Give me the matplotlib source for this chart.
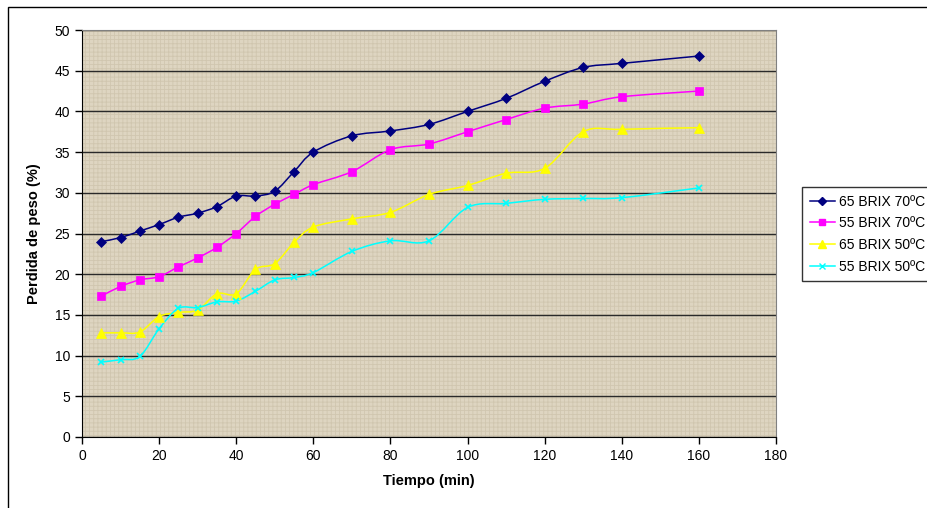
import numpy as np
import matplotlib
matplotlib.use("Agg")
import matplotlib.pyplot as plt
from matplotlib.path import Path
from matplotlib.patches import PathPatch, Rectangle

plt.rcParams['font.family'] = ['Liberation Sans', 'DejaVu Sans']
plt.rcParams['hatch.linewidth'] = 0.6

# tiempo (min)
tiempo = [5, 10, 15, 20, 25, 30, 35, 40, 45, 50, 55, 60, 70, 80, 90, 100, 110, 120, 130, 140, 160]

b65_70 = [24.0, 24.5, 25.3, 26.1, 27.0, 27.5, 28.3, 29.6, 29.6, 30.2, 32.6, 35.0,
          37.0, 37.6, 38.4, 40.0, 41.6, 43.7, 45.4, 45.9, 46.8]
b55_70 = [17.3, 18.5, 19.3, 19.7, 20.9, 22.0, 23.3, 25.0, 27.1, 28.6, 29.8, 31.0,
          32.6, 35.3, 36.0, 37.5, 39.0, 40.4, 40.9, 41.8, 42.5]
b65_50 = [12.8, 12.8, 12.9, 14.8, 15.3, 15.6, 17.6, 17.6, 20.6, 21.3, 23.9, 25.8,
          26.8, 27.6, 29.8, 30.9, 32.4, 33.0, 37.5, 37.8, 38.0]
b55_50 = [9.2, 9.5, 9.9, 13.3, 15.8, 15.9, 16.6, 16.7, 17.9, 19.3, 19.6, 20.2,
          22.8, 24.1, 24.1, 28.2, 28.7, 29.2, 29.3, 29.4, 30.6]

series = [
    ("65 BRIX 70ºC", b65_70, "#000080", "D", 5),
    ("55 BRIX 70ºC", b55_70, "#FF00FF", "s", 5.5),
    ("65 BRIX 50ºC", b65_50, "#FFFF00", "^", 6.5),
    ("55 BRIX 50ºC", b55_50, "#00FFFF", "x", 5),
]


def smooth_path(x, y):
    # excel-style smoothed line: bezier segments through the points
    p = np.column_stack([x, y]).astype(float)
    n = len(p)
    verts = [p[0]]
    codes = [Path.MOVETO]
    for i in range(n - 1):
        p0 = p[i - 1] if i > 0 else p[i]
        p3 = p[i + 2] if i + 2 < n else p[i + 1]
        c1 = p[i] + (p[i + 1] - p0) / 6
        c2 = p[i + 1] - (p3 - p[i]) / 6
        verts += [c1, c2, p[i + 1]]
        codes += [Path.CURVE4] * 3
    return Path(verts, codes)


fig = plt.figure(figsize=(9.28, 5.08), dpi=100)
ax = fig.add_axes([82/928, 1 - 437/508, (776 - 82)/928, (437 - 30)/508])
ax.set_facecolor("#DED5C1")
# woven paper look
ax.add_patch(Rectangle((0, 0), 1, 1, transform=ax.transAxes, fill=False,
                       hatch="++++", edgecolor="#D0C6AF", lw=0, zorder=0.5))

for lab, vals, col, mk, ms in series:
    ax.add_patch(PathPatch(smooth_path(tiempo, vals), fill=False, edgecolor=col, lw=1.1, zorder=3))
    ax.plot(tiempo, vals, linestyle="none", marker=mk, color=col, ms=ms,
            mew=1.2 if mk == "x" else 0.5, zorder=4)

handles = [plt.Line2D([], [], color=col, marker=mk, ms=ms * 0.8, lw=1.1, label=lab)
           for lab, vals, col, mk, ms in series]

ax.set_xlim(0, 180)
ax.set_ylim(0, 50)
ax.set_xticks(np.arange(0, 181, 20))
ax.set_yticks(np.arange(0, 51, 5))
ax.yaxis.grid(True, color="#2A2A2A", lw=1)
ax.set_axisbelow(True)
ax.tick_params(direction="out", length=5, width=1, labelsize=10, colors="black")
for s in ["top", "right"]:
    ax.spines[s].set_color("#808080")
for s in ["left", "bottom"]:
    ax.spines[s].set_color("black")

ax.set_xlabel("Tiempo (min)", fontsize=10.5, fontweight="bold", labelpad=8)
ax.set_ylabel("Perdida de peso (%)", fontsize=10.5, fontweight="bold", labelpad=10)

leg = fig.legend(handles=handles, loc="upper left", bbox_to_anchor=(802/928, 1 - 187/508),
                 fontsize=10, frameon=True, fancybox=False, shadow=False,
                 borderaxespad=0, handlelength=1.8, handletextpad=0.3,
                 labelspacing=0.55, borderpad=0.55)
leg.get_frame().set_edgecolor("black")
leg.get_frame().set_linewidth(1)

fig.patches.append(Rectangle((8/928, -0.1), 1.1, 1.1 - 7/508, transform=fig.transFigure,
                             fill=False, edgecolor="black", lw=1))

fig.savefig("out.png", dpi=100)
